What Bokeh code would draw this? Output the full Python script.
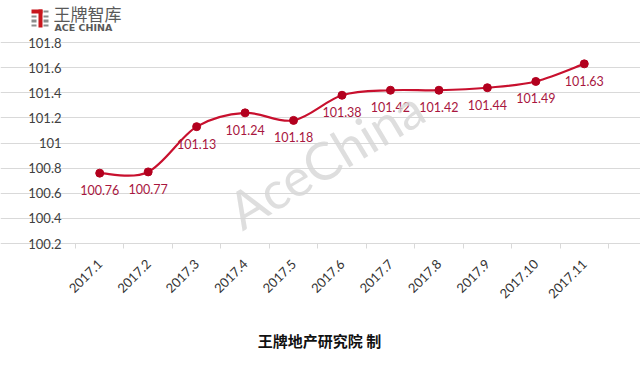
import math
from bokeh.plotting import figure
from bokeh.models import Range1d, FixedTicker, Label, BoxAnnotation, ColumnDataSource
from bokeh.core.properties import value
from bokeh.embed import file_html
from bokeh.resources import INLINE

months = ["2017.1", "2017.2", "2017.3", "2017.4", "2017.5", "2017.6",
          "2017.7", "2017.8", "2017.9", "2017.10", "2017.11"]
values = [100.76, 100.77, 101.13, 101.24, 101.18, 101.38,
          101.42, 101.42, 101.44, 101.49, 101.63]
y_ticks = [100.2, 100.4, 100.6, 100.8, 101.0, 101.2, 101.4, 101.6, 101.8]
y_tick_labels = ["100.2", "100.4", "100.6", "100.8", "101", "101.2", "101.4", "101.6", "101.8"]
value_labels = ["%.2f" % v for v in values]
footer = "王牌地产研究院 制"
watermark = "AceChina"

n = len(months)
xs = [i + 0.5 for i in range(n)]
bounds = list(range(n + 1))
Y0, Y1 = y_ticks[0], y_ticks[-1]

W, H = 640, 365
PL, PR, PT, PB = 75, 608, 42, 243  # plot-area edges on the canvas (pixels)
kx = (PR - PL) / n
ky = (PB - PT) / (Y1 - Y0)
x_range = Range1d(-PL / kx, n + (W - PR) / kx)
y_range = Range1d(Y0 - (H - PB) / ky, Y1 + PT / ky)

p = figure(width=W, height=H, output_backend="svg", toolbar_location=None,
           x_range=x_range, y_range=y_range,
           min_border_left=0, min_border_right=0, min_border_top=0, min_border_bottom=0)
p.outline_line_color = None
p.background_fill_color = "white"
p.border_fill_color = "white"

# y axis (fixed at the left edge of the plot area)
p.yaxis.fixed_location = 0
p.yaxis.bounds = (Y0, Y1)
p.yaxis.ticker = FixedTicker(ticks=y_ticks)
p.yaxis.major_label_overrides = dict(zip(y_ticks, y_tick_labels))
p.yaxis.axis_line_color = None
p.yaxis.major_tick_line_color = None
p.yaxis.minor_tick_line_color = None
p.yaxis.major_label_text_font = "Lato"
p.yaxis.major_label_text_font_size = "13px"
p.yaxis.major_label_text_color = "#404040"
p.yaxis.major_label_standoff = 8
p.ygrid.grid_line_color = "#d9d9d9"
p.ygrid.bounds = (0, n)
p.xgrid.grid_line_color = None

# x axis (fixed at the bottom of the plot area)
p.xaxis.fixed_location = Y0
p.xaxis.bounds = (0, n)
p.xaxis.ticker = FixedTicker(ticks=xs, minor_ticks=bounds)
p.xaxis.major_label_overrides = dict(zip(xs, months))
p.xaxis.major_tick_line_color = None
p.xaxis.minor_tick_line_color = "#d9d9d9"
p.xaxis.minor_tick_in = 0
p.xaxis.minor_tick_out = 5
p.xaxis.axis_line_color = "#d9d9d9"
p.xaxis.major_label_orientation = math.pi / 4
p.xaxis.major_label_text_font = "Lato"
p.xaxis.major_label_text_font_size = "13px"
p.xaxis.major_label_text_color = "#333333"
p.xaxis.major_label_standoff = 12

def sx(px):
    return px

def sy(py):
    return H - py

# watermark
p.add_layout(Label(x=sx(325), y=sy(158), x_units="screen", y_units="screen", text=watermark,
                   angle=0.54, text_align="center", text_baseline="alphabetic",
                   text_font="Lato", text_font_size="52px", text_color="#d6d6d6", text_alpha=0.8))

# smooth line via bezier segments
def ext(seq, i):
    return seq[max(0, min(len(seq) - 1, i))]

x0, y0, x1, y1, cx0, cy0, cx1, cy1 = [], [], [], [], [], [], [], []
for i in range(n - 1):
    x0.append(xs[i]); y0.append(values[i])
    x1.append(xs[i + 1]); y1.append(values[i + 1])
    cx0.append(xs[i] + (xs[i + 1] - ext(xs, i - 1)) / 6)
    cy0.append(values[i] + (values[i + 1] - ext(values, i - 1)) / 6)
    cx1.append(xs[i + 1] - (ext(xs, i + 2) - xs[i]) / 6)
    cy1.append(values[i + 1] - (ext(values, i + 2) - values[i]) / 6)
p.bezier(x0=x0, y0=y0, x1=x1, y1=y1, cx0=cx0, cy0=cy0, cx1=cx1, cy1=cy1,
         line_color="#c8102e", line_width=2.2)

src = ColumnDataSource(dict(x=xs, y=values, t=value_labels))
p.scatter("x", "y", source=src, size=8, fill_color="#b3001e", line_color="#b3001e")
p.text("x", "y", text="t", source=src, y_offset=17, text_align="center", text_baseline="middle",
       text_font=value("Lato"), text_font_size="12.5px", text_color="#a8163e")

# footer
p.add_layout(Label(x=sx(319), y=sy(340), x_units="screen", y_units="screen", text=footer,
                   text_align="center", text_baseline="middle",
                   text_font="Noto Sans CJK SC", text_font_style="bold",
                   text_font_size="15px", text_color="#111111"))

# logo
def box(l, t, r, b, color):
    p.add_layout(BoxAnnotation(left=sx(l), right=sx(r), top=sy(t), bottom=sy(b),
                               left_units="screen", right_units="screen",
                               top_units="screen", bottom_units="screen",
                               fill_color=color, fill_alpha=1, line_color=None))

red, gray = "#c8161d", "#8c8c8c"
box(31, 9, 42, 13, red)
box(38, 9, 42, 27, red)
for (t, b) in [(10, 12), (15, 17), (19, 22), (24, 26)]:
    box(43, t, 48, b, gray)
for (t, b) in [(15, 17), (19, 22), (24, 26)]:
    box(31, t, 36, b, gray)
p.add_layout(Label(x=sx(53), y=sy(13), x_units="screen", y_units="screen", text="王牌智库",
                   text_align="left", text_baseline="middle",
                   text_font="Noto Sans CJK SC", text_font_size="17px", text_color="#595959"))
p.add_layout(Label(x=sx(54), y=sy(27), x_units="screen", y_units="screen", text="ACE CHINA",
                   text_align="left", text_baseline="middle",
                   text_font="DejaVu Sans", text_font_style="bold",
                   text_font_size="9.5px", text_color="#595959"))

open("out.html", "w").write(file_html(p, INLINE))
